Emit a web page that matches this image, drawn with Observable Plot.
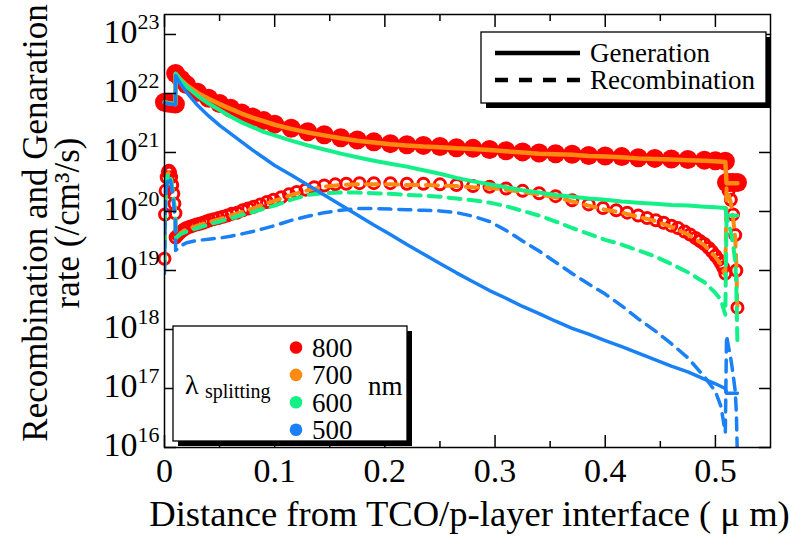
<!DOCTYPE html>
<html><head><meta charset="utf-8">
<script src="https://cdn.jsdelivr.net/npm/d3@7"></script>
<script src="https://cdn.jsdelivr.net/npm/@observablehq/plot@0.6"></script>
<style>
body{margin:0;background:#fff;}
#chart{position:relative;width:791px;height:538px;}
</style></head><body><div id="chart"></div>
<script>
const FONT = "'Liberation Serif', 'Times New Roman', serif";

// ---- data (x in µm, rates given as log10 of /cm^3/s) ----
const genX = [0, 0.003, 0.006, 0.0099,
  0.0101, 0.015, 0.02, 0.03, 0.04, 0.05, 0.06, 0.07, 0.08, 0.09, 0.10, 0.115, 0.13, 0.145, 0.16, 0.175, 0.19, 0.205, 0.22, 0.235, 0.25,
  0.265, 0.28, 0.295, 0.31, 0.325, 0.34, 0.355, 0.37, 0.385, 0.40, 0.415, 0.43, 0.445, 0.46, 0.475, 0.49, 0.50, 0.509,
  0.5101, 0.513, 0.516, 0.52];
const gen800 = [21.85, 21.84, 21.83, 21.82,
  22.34, 22.24, 22.15, 22.02, 21.92, 21.83, 21.75, 21.67, 21.60, 21.54, 21.48, 21.41, 21.35, 21.30, 21.25, 21.21, 21.18, 21.15, 21.13, 21.12, 21.10,
  21.08, 21.07, 21.05, 21.03, 21.01, 20.99, 20.98, 20.97, 20.95, 20.94, 20.93, 20.91, 20.90, 20.89, 20.88, 20.87, 20.86, 20.85,
  20.49, 20.49, 20.49, 20.49];
const gen700 = [21.85, 21.84, 21.83, 21.82,
  22.33, 22.23, 22.14, 22.01, 21.91, 21.82, 21.74, 21.66, 21.59, 21.53, 21.47, 21.40, 21.34, 21.29, 21.24, 21.20, 21.17, 21.14, 21.12, 21.10, 21.09,
  21.07, 21.06, 21.04, 21.02, 21.00, 20.98, 20.97, 20.96, 20.94, 20.93, 20.92, 20.90, 20.89, 20.88, 20.87, 20.86, 20.85, 20.84,
  20.48, 20.48, 20.48, 20.48];
const gen600 = [21.85, 21.84, 21.83, 21.82,
  22.34, 22.22, 22.12, 21.96, 21.83, 21.72, 21.61, 21.51, 21.43, 21.35, 21.29, 21.20, 21.12, 21.05, 20.98, 20.92, 20.86, 20.81, 20.76, 20.70, 20.64,
  20.57, 20.51, 20.46, 20.41, 20.36, 20.32, 20.28, 20.25, 20.22, 20.20, 20.17, 20.15, 20.13, 20.11, 20.10, 20.08, 20.07, 20.06,
  19.93, 19.93, 19.93, 19.93];
const gen500 = [21.84, 21.83, 21.82, 21.81,
  22.30, 22.15, 22.02, 21.80, 21.62, 21.46, 21.32, 21.18, 21.04, 20.91, 20.78, 20.62, 20.45, 20.28, 20.11, 19.94, 19.77, 19.61, 19.44, 19.28, 19.12,
  18.96, 18.81, 18.66, 18.53, 18.39, 18.27, 18.14, 18.02, 17.92, 17.81, 17.71, 17.60, 17.49, 17.38, 17.28, 17.16, 17.08, 17.00,
  16.92, 16.92, 16.92, 16.92];

// 800 nm recombination, sampled on the (denser) simulation mesh shown by its markers
const rec800X = [0, 0.0005, 0.001, 0.002, 0.003, 0.004, 0.005, 0.006, 0.007, 0.008, 0.009, 0.0099,
  0.0101, 0.012, 0.014, 0.016, 0.018, 0.02, 0.023, 0.026, 0.029, 0.032, 0.035, 0.038, 0.041, 0.045, 0.049, 0.053, 0.057, 0.061,
  0.066, 0.071, 0.076, 0.081, 0.087, 0.093, 0.099, 0.106, 0.113, 0.12, 0.128, 0.136, 0.145, 0.155, 0.165, 0.177, 0.19, 0.205,
  0.22, 0.235, 0.25, 0.265, 0.28, 0.295, 0.31, 0.325, 0.34, 0.355, 0.37, 0.385, 0.398, 0.41, 0.42, 0.43, 0.438, 0.446, 0.453,
  0.46, 0.466, 0.472, 0.477, 0.482, 0.486, 0.49, 0.494, 0.497, 0.5, 0.503, 0.505, 0.507, 0.509,
  0.5101, 0.512, 0.514, 0.516, 0.518, 0.519, 0.52];
const rec800 = [19.20, 19.95, 20.35, 20.58, 20.67, 20.69, 20.66, 20.58, 20.45, 20.30, 20.13, 19.97,
  19.56, 19.60, 19.64, 19.67, 19.70, 19.72, 19.74, 19.76, 19.78, 19.79, 19.81, 19.83, 19.85, 19.87, 19.89, 19.91, 19.93, 19.96,
  19.98, 20.02, 20.05, 20.08, 20.12, 20.16, 20.20, 20.24, 20.29, 20.33, 20.37, 20.41, 20.44, 20.46, 20.47, 20.48, 20.48, 20.48,
  20.47, 20.47, 20.46, 20.45, 20.43, 20.42, 20.39, 20.35, 20.31, 20.26, 20.19, 20.12, 20.06, 20.02, 19.98, 19.93, 19.89, 19.85, 19.81,
  19.76, 19.72, 19.66, 19.61, 19.55, 19.50, 19.45, 19.38, 19.32, 19.25, 19.18, 19.12, 19.05, 18.95,
  20.45, 20.35, 20.20, 19.95, 19.60, 19.00, 18.37];

const recX = [0, 0.0005, 0.001, 0.002, 0.003, 0.004, 0.005, 0.006, 0.007, 0.008, 0.009, 0.0099,
  0.0101, 0.015, 0.02, 0.03, 0.04, 0.05, 0.06, 0.07, 0.08, 0.09, 0.10, 0.115, 0.13, 0.145, 0.16, 0.175, 0.19, 0.205, 0.22, 0.235, 0.25,
  0.265, 0.28, 0.295, 0.31, 0.325, 0.34, 0.355, 0.37, 0.385, 0.40, 0.415, 0.43, 0.445, 0.46, 0.475, 0.49, 0.50, 0.505, 0.509,
  0.5101, 0.512, 0.514, 0.516, 0.518, 0.519, 0.52];
const rec700 = [19.10, 19.90, 20.30, 20.55, 20.64, 20.66, 20.63, 20.55, 20.42, 20.27, 20.10, 19.94,
  19.54, 19.64, 19.70, 19.76, 19.82, 19.87, 19.93, 19.99, 20.05, 20.12, 20.18, 20.28, 20.36, 20.42, 20.45, 20.46, 20.46, 20.46, 20.45, 20.45, 20.44,
  20.43, 20.41, 20.40, 20.37, 20.33, 20.29, 20.24, 20.17, 20.10, 20.03, 19.98, 19.91, 19.84, 19.74, 19.61, 19.43, 19.23, 19.10, 18.92,
  20.40, 20.30, 20.15, 19.90, 19.55, 19.10, 18.30];
const rec600 = [19.05, 19.85, 20.28, 20.52, 20.62, 20.64, 20.61, 20.53, 20.40, 20.25, 20.08, 19.92,
  19.55, 19.62, 19.66, 19.72, 19.78, 19.83, 19.88, 19.94, 19.99, 20.05, 20.10, 20.20, 20.28, 20.31, 20.32, 20.32, 20.31, 20.30, 20.28, 20.27, 20.25,
  20.22, 20.19, 20.15, 20.09, 20.01, 19.93, 19.83, 19.72, 19.62, 19.52, 19.44, 19.34, 19.24, 19.11, 18.97, 18.80, 18.62, 18.50, 18.25,
  19.90, 19.80, 19.65, 19.45, 19.15, 18.70, 17.75];
const rec500 = [18.95, 19.80, 20.20, 20.45, 20.55, 20.58, 20.55, 20.47, 20.34, 20.18, 20.00, 19.85,
  19.34, 19.42, 19.47, 19.51, 19.53, 19.55, 19.58, 19.62, 19.66, 19.71, 19.76, 19.85, 19.92, 19.98, 20.02, 20.05, 20.05, 20.04, 20.03, 20.02, 20.01,
  19.98, 19.92, 19.83, 19.68, 19.50, 19.33, 19.14, 18.95, 18.77, 18.60, 18.40, 18.18, 17.98, 17.76, 17.52, 17.20, 16.95, 16.70, 16.25,
  17.90, 17.70, 17.50, 17.25, 16.95, 16.60, 15.80];

const wavelengths = ["800", "700", "600", "500"];
const colors = ["#ff0000", "#ff8a12", "#14f088", "#1a80f5"];
const xMajor = [0, 0.1, 0.2, 0.3, 0.4, 0.5];
const xMajorLabels = ["0", "0.1", "0.2", "0.3", "0.4", "0.5"];
const xMinor = [0.05, 0.15, 0.25, 0.35, 0.45];
const yTicks = [1e16, 1e17, 1e18, 1e19, 1e20, 1e21, 1e22, 1e23];
const yTickExps = ["16", "17", "18", "19", "20", "21", "22", "23"];
const xTitle = "Distance from TCO/p-layer interface ( \u03bc m)";
const yTitle1 = "Recombination and Genaration";
const yTitle2 = "rate (/cm\u00b3/s)";
const legendStyles = ["Generation", "Recombination"];

const gx = (d, i) => genX[i];
const rx = (d, i) => recX[i];
const val = d => 10 ** d;
const dash = "12,8";

const plot = Plot.plot({
  width: 791, height: 538,
  marginTop: 14, marginBottom: 91, marginLeft: 164, marginRight: 21,
  style: {fontFamily: FONT, fontSize: "34px", color: "black", background: "white", overflow: "visible"},
  x: {domain: [0, 0.55]},
  y: {type: "log", domain: [1e16, 2.18e23]},
  marks: [
    // 800 nm: markers only
    Plot.dot(gen800, {x: gx, y: val, r: 9.5, fill: colors[0]}),
    Plot.dot(rec800, {x: (d, i) => rec800X[i], y: val, r: 5.5, stroke: colors[0], strokeWidth: 3, fill: "none"}),
    // 700 nm
    Plot.line(gen700, {x: gx, y: val, stroke: colors[1], strokeWidth: 4.5}),
    Plot.line(rec700, {x: rx, y: val, stroke: colors[1], strokeWidth: 4, strokeDasharray: dash, clip: true}),
    // 600 nm
    Plot.line(gen600, {x: gx, y: val, stroke: colors[2], strokeWidth: 4}),
    Plot.line(rec600, {x: rx, y: val, stroke: colors[2], strokeWidth: 4, strokeDasharray: dash, clip: true}),
    // 500 nm
    Plot.line(gen500, {x: gx, y: val, stroke: colors[3], strokeWidth: 3.5}),
    Plot.line(rec500, {x: rx, y: val, stroke: colors[3], strokeWidth: 3.5, strokeDasharray: dash, clip: true}),
    Plot.frame({stroke: "black", strokeWidth: 1.5}),
    // inward ticks on all four sides
    Plot.axisX({anchor: "bottom", ticks: xMajor, tickSize: 12, dy: -12, fill: "none", strokeWidth: 1.5, label: null}),
    Plot.axisX({anchor: "bottom", ticks: xMinor, tickSize: 6, dy: -6, fill: "none", strokeWidth: 1.5, label: null}),
    Plot.axisX({anchor: "top", ticks: xMajor, tickSize: 12, dy: 12, fill: "none", strokeWidth: 1.5, label: null}),
    Plot.axisX({anchor: "top", ticks: xMinor, tickSize: 6, dy: 6, fill: "none", strokeWidth: 1.5, label: null}),
    Plot.axisY({anchor: "left", ticks: yTicks, tickSize: 12, dx: 12, fill: "none", strokeWidth: 1.5, label: null}),
    Plot.axisY({anchor: "right", ticks: yTicks, tickSize: 12, dx: -12, fill: "none", strokeWidth: 1.5, label: null}),
    // tick labels
    Plot.axisX({anchor: "bottom", ticks: xMajor, tickSize: 0, tickPadding: 10, fontSize: 34, label: null,
      tickFormat: d => xMajorLabels[xMajor.indexOf(d)]}),
    Plot.axisY({anchor: "left", ticks: yTicks, tickSize: 0, tickPadding: 27, fontSize: 34, dy: -2, label: null,
      tickFormat: () => "10"}),
    Plot.axisY({anchor: "left", ticks: yTicks, tickSize: 0, tickPadding: 27, fontSize: 22, dy: -13, textAnchor: "start", label: null,
      tickFormat: d => yTickExps[yTicks.indexOf(d)]}),
    // axis titles
    Plot.text([xTitle], {frameAnchor: "bottom", text: d => d, fontSize: 36.6, textAnchor: "middle", lineAnchor: "bottom", dx: 2, dy: 78}),
    Plot.text([yTitle1], {frameAnchor: "left", text: d => d, fontSize: 35, textAnchor: "middle", rotate: -90, dx: -129, dy: -8}),
    Plot.text([yTitle2], {frameAnchor: "left", text: d => d, fontSize: 35, textAnchor: "middle", rotate: -90, dx: -97, dy: -8})
  ]
});

document.getElementById("chart").appendChild(plot);

// ---- legends (drawn into the same SVG) ----
const svg = d3.select(plot);
const lg = svg.append("g").attr("font-family", FONT).attr("fill", "black").attr("text-anchor", "start");
// line-style legend
lg.append("rect").attr("x", 486).attr("y", 37).attr("width", 285).attr("height", 71).attr("fill", "black");
lg.append("rect").attr("x", 481).attr("y", 32).attr("width", 285).attr("height", 71)
  .attr("fill", "white").attr("stroke", "black").attr("stroke-width", 1.3);
lg.append("line").attr("x1", 495).attr("x2", 580).attr("y1", 53).attr("y2", 53)
  .attr("stroke", "black").attr("stroke-width", 4.5);
lg.append("line").attr("x1", 495).attr("x2", 580).attr("y1", 80).attr("y2", 80)
  .attr("stroke", "black").attr("stroke-width", 4.5).attr("stroke-dasharray", "13,11");
lg.append("text").attr("x", 590).attr("y", 62).attr("font-size", 27).text(legendStyles[0]);
lg.append("text").attr("x", 590).attr("y", 89).attr("font-size", 27).text(legendStyles[1]);

// wavelength legend
const lg2 = svg.append("g").attr("font-family", FONT).attr("fill", "black").attr("text-anchor", "start");
lg2.append("rect").attr("x", 178).attr("y", 331).attr("width", 234).attr("height", 115).attr("fill", "black");
lg2.append("rect").attr("x", 173).attr("y", 326).attr("width", 234).attr("height", 115)
  .attr("fill", "white").attr("stroke", "black").attr("stroke-width", 1.3);
const lam = lg2.append("text").attr("x", 185).attr("y", 394).attr("font-size", 28);
lam.append("tspan").text("\u03bb");
lam.append("tspan").attr("x", 205).attr("y", 398).attr("font-size", 20).text("splitting");
wavelengths.forEach((w, i) => {
  const base = 357 + i * 27.4;
  lg2.append("circle").attr("cx", 296).attr("cy", base - 9.5).attr("r", 6.3).attr("fill", colors[i]);
  lg2.append("text").attr("x", 312).attr("y", base).attr("font-size", 27).text(w);
});
lg2.append("text").attr("x", 368).attr("y", 395).attr("font-size", 27).text("nm");
</script>
</body></html>
